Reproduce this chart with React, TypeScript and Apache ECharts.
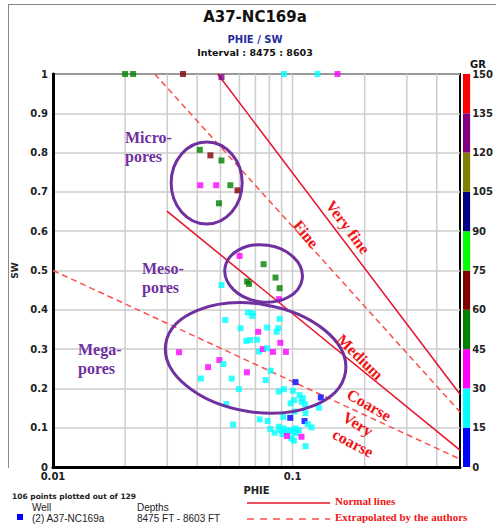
import React, { useEffect, useRef } from 'react';
import * as echarts from 'echarts';

// ---------------- data ----------------
// GR colour classes (0-150, step 15)
const grBreaks = [0, 15, 30, 45, 60, 75, 90, 105, 120, 135, 150];
const grColors = ['#0000ff', '#00ffff', '#ff00ff', '#008000', '#800000', '#00ff00', '#000080', '#808000', '#800080', '#ff0000'];

// points on the top border and in the micro-pore zone
const phieTop = [0.020, 0.0216, 0.0349, 0.0505, 0.092, 0.127, 0.154];
const swTop = [1, 1, 1, 0.992, 1, 1, 1];
const grTop = [52, 50, 66, 128, 24, 22, 40];

const phieMicro = [0.0410, 0.0454, 0.0505, 0.0412, 0.0480, 0.0550, 0.0589, 0.0493];
const swMicro = [0.807, 0.793, 0.780, 0.717, 0.717, 0.717, 0.704, 0.671];
const grMicro = [52, 68, 55, 38, 40, 50, 70, 48];

const phieMeso = [0.0601, 0.0757, 0.0505, 0.0646, 0.0658, 0.0849, 0.0883, 0.0877];
const swMeso = [0.537, 0.516, 0.463, 0.472, 0.466, 0.482, 0.455, 0.427];
const grMeso = [42, 50, 25, 53, 55, 47, 51, 36];

const phieMega = [0.0651, 0.0681, 0.0678, 0.0524, 0.0883, 0.0607, 0.0719, 0.0783, 0.0872, 0.0858,
  0.0641, 0.0665, 0.0711, 0.0889, 0.0336, 0.0724, 0.0752, 0.0783, 0.0828, 0.0938,
  0.0495, 0.0514, 0.0444, 0.0645, 0.0810, 0.0414, 0.0557, 0.0772, 0.0597, 0.0529, 0.0564];
const swMega = [0.393, 0.391, 0.384, 0.374, 0.377, 0.353, 0.344, 0.355, 0.353, 0.344,
  0.321, 0.323, 0.324, 0.316, 0.292, 0.294, 0.300, 0.302, 0.293, 0.293,
  0.272, 0.262, 0.254, 0.241, 0.245, 0.225, 0.225, 0.221, 0.198, 0.160, 0.108];
const grMega = [22, 24, 20, 26, 23, 21, 40, 25, 22, 19,
  27, 23, 20, 33, 38, 24, 36, 21, 41, 35,
  39, 22, 37, 42, 26, 18, 24, 21, 20, 27, 19];

const phieCluster = [0.1029, 0.0877, 0.0920, 0.1003, 0.1069, 0.1104, 0.1312, 0.1013, 0.0981, 0.1090,
  0.1125, 0.1019, 0.1287, 0.0915, 0.0978, 0.1133, 0.1122, 0.0729, 0.0787, 0.1158,
  0.1200, 0.0807, 0.0841, 0.0877, 0.0889, 0.0917, 0.0941, 0.0906, 0.0972, 0.1003,
  0.1029, 0.1062, 0.0988, 0.1013, 0.1036, 0.1133, 0.0947, 0.1090];
const swCluster = [0.216, 0.192, 0.198, 0.194, 0.183, 0.175, 0.177, 0.170, 0.162, 0.166,
  0.160, 0.141, 0.151, 0.127, 0.125, 0.137, 0.117, 0.121, 0.117, 0.109,
  0.101, 0.097, 0.087, 0.1025, 0.094, 0.098, 0.090, 0.084, 0.094, 0.090,
  0.098, 0.094, 0.073, 0.067, 0.086, 0.053, 0.079, 0.077];
const grCluster = [10, 22, 24, 20, 23, 25, 12, 21, 19, 26,
  22, 24, 20, 23, 9, 27, 11, 22, 25, 21,
  18, 24, 20, 26, 22, 23, 21, 19, 25, 24,
  20, 22, 23, 26, 21, 24, 38, 34];

const phie = [...phieTop, ...phieMicro, ...phieMeso, ...phieMega, ...phieCluster];
const sw = [...swTop, ...swMicro, ...swMeso, ...swMega, ...swCluster];
const gr = [...grTop, ...grMicro, ...grMeso, ...grMega, ...grCluster];

// rock-type boundary lines (PHIE, SW end points)
const veryFinePhie = [0.0487, 0.5];
const veryFineSw = [1.0, 0.185];
const finePhie = [0.0266, 0.5];
const fineSw = [1.0, 0.14];
const mediumPhie = [0.0299, 0.5];
const mediumSw = [0.651, 0.043];
const coarsePhie = [0.01, 0.5];
const coarseSw = [0.5, 0.02];

// vertical log grid lines
const gridPhie = [0.02, 0.03, 0.04, 0.05, 0.06, 0.07, 0.08, 0.09, 0.1, 0.2, 0.3, 0.4];
const swRange = [0, 1];

// pore-type ellipses (centre in data units)
const ellipsePhie = [0.0438, 0.0757, 0.0701];
const ellipseSw = [0.7226, 0.4924, 0.2774];

const RED = '#e8102a';
const DASHRED = '#ff4d4d';
const PURPLE = '#7030a0';
const LABELRED = '#f01414';
const GRIDGRAY = '#cdcdcd';

export default function App() {
  const ref = useRef<HTMLDivElement>(null);

  useEffect(() => {
    if (!ref.current) return;
    const chart = echarts.init(ref.current, null, { renderer: 'svg' });

    const axisFont = { fontFamily: 'DejaVu Sans', fontWeight: 'bold', fontSize: 10, color: '#222' };

    const lineSeries = (name: string, xs: number[], ys: number[], color: string, dashed: boolean) => ({
      type: 'line',
      name,
      xAxisIndex: 0,
      yAxisIndex: 0,
      data: xs.map((x, i) => [x, ys[i]]),
      showSymbol: false,
      symbol: 'none',
      silent: true,
      z: 3,
      lineStyle: { color, width: 1.5, type: dashed ? [6, 4] : 'solid' },
    });

    const option: any = {
      animation: false,
      backgroundColor: '#fff',
      grid: [
        { left: 53, top: 74, width: 407, height: 393, show: true, borderColor: '#000', borderWidth: 2 },
        { left: 463, top: 74, width: 9, height: 393 },
      ],
      xAxis: [
        {
          type: 'log', logBase: 10, min: 0.01, max: 0.5, gridIndex: 0,
          name: 'PHIE', nameLocation: 'middle', nameGap: 14,
          nameTextStyle: { ...axisFont, fontSize: 10 },
          axisLine: { show: true, onZero: false, lineStyle: { color: '#000', width: 3 } },
          axisTick: { show: false },
          axisLabel: {
            ...axisFont, margin: 4, showMaxLabel: false,
            formatter: (v: number) => (Math.abs(v - 0.01) < 1e-9 ? '0.01' : Math.abs(v - 0.1) < 1e-9 ? '0.1' : ''),
          },
          splitLine: { show: false },
        },
        { type: 'category', gridIndex: 1, data: ['GR'], show: false },
      ],
      yAxis: [
        {
          type: 'value', min: 0, max: 1, interval: 0.1, gridIndex: 0,
          name: 'SW', nameLocation: 'middle', nameGap: 32,
          nameTextStyle: { ...axisFont, fontSize: 9 },
          axisLine: { show: true, onZero: false, lineStyle: { color: '#000', width: 3 } },
          axisTick: { show: false },
          axisLabel: { ...axisFont, margin: 5 },
          splitLine: { show: true, lineStyle: { color: GRIDGRAY, width: 1.5 } },
        },
        {
          type: 'value', min: 0, max: 150, interval: 15, gridIndex: 1, position: 'right',
          axisLine: { show: false }, axisTick: { show: false }, splitLine: { show: false },
          axisLabel: { ...axisFont, margin: 2 },
        },
      ],
      visualMap: {
        type: 'piecewise', show: false, seriesIndex: 0, dimension: 2,
        pieces: grColors.map((c, i) => ({ gte: grBreaks[i], lt: grBreaks[i + 1], color: c })),
      },
      series: [
        {
          type: 'scatter', xAxisIndex: 0, yAxisIndex: 0, symbol: 'rect', symbolSize: 6, z: 4,
          data: phie.map((p, i) => [p, sw[i], gr[i]]),
        },
        lineSeries('Very fine', veryFinePhie, veryFineSw, RED, false),
        lineSeries('Fine', finePhie, fineSw, DASHRED, true),
        lineSeries('Medium', mediumPhie, mediumSw, RED, false),
        lineSeries('Coarse', coarsePhie, coarseSw, DASHRED, true),
        ...grColors.map((c, i) => ({
          type: 'bar', xAxisIndex: 1, yAxisIndex: 1, stack: 'gr', barWidth: '100%', silent: true,
          data: [grBreaks[i + 1] - grBreaks[i]], itemStyle: { color: c },
        })),
      ],
    };

    chart.setOption(option);

    const toPx = (p: number, s: number) => chart.convertToPixel({ seriesIndex: 0 }, [p, s]) as number[];
    const radX = [35.5, 39, 91];
    const radY = [41, 28.5, 54];
    const rot = [0, -0.14, -0.16];

    // vertical log grid lines placed through the x-axis scale
    const vLines = gridPhie.map((v) => {
      const top = toPx(v, swRange[1]);
      const bot = toPx(v, swRange[0]);
      return {
        type: 'line', z: 0, silent: true,
        shape: { x1: top[0], y1: top[1], x2: bot[0], y2: bot[1] },
        style: { stroke: GRIDGRAY, lineWidth: 1.5 },
      };
    });

    const ellipses = ellipsePhie.map((p, i) => {
      const [cx, cy] = toPx(p, ellipseSw[i]);
      return {
        type: 'ellipse', x: cx, y: cy, rotation: rot[i], z: 5, silent: true,
        shape: { cx: 0, cy: 0, rx: radX[i], ry: radY[i] },
        style: { fill: 'none', stroke: PURPLE, lineWidth: 3 },
      };
    });

    const txt = (text: string, x: number, y: number, font: string, fill: string, align = 'left', rotation = 0, extra: any = {}) => ({
      type: 'text', x, y, rotation, z: 6, silent: true,
      style: { text, font, fill, align, verticalAlign: 'middle', ...extra },
    });

    const zoneFont = 'bold 16px "Liberation Serif"';
    const rockFont = 'bold 16px "Liberation Serif"';

    const graphic: any[] = [
      ...vLines,
      { type: 'line', shape: { x1: 8, y1: 4.5, x2: 496, y2: 4.5 }, style: { stroke: '#8a8a8a', lineWidth: 1 }, silent: true },
      { type: 'line', shape: { x1: 8.5, y1: 4, x2: 8.5, y2: 468 }, style: { stroke: '#8a8a8a', lineWidth: 1 }, silent: true },
      txt('A37-NC169a', 255, 17, 'bold 15px "DejaVu Sans"', '#111', 'center'),
      txt('PHIE / SW', 255, 39, 'bold 10px "DejaVu Sans"', '#2a2a9c', 'center'),
      txt('Interval : 8475 : 8603', 255, 52, 'bold 9.5px "DejaVu Sans"', '#111', 'center'),
      txt('GR', 478, 64, 'bold 10px "DejaVu Sans"', '#111', 'center'),
      ...ellipses,
      { type: 'text', x: 125, y: 127.5, z: 6, silent: true, style: { text: 'Micro-\npores', font: zoneFont, fill: PURPLE, lineHeight: 19, align: 'left', verticalAlign: 'top' } },
      { type: 'text', x: 142, y: 258.5, z: 6, silent: true, style: { text: 'Meso-\npores', font: zoneFont, fill: PURPLE, lineHeight: 19, align: 'left', verticalAlign: 'top' } },
      { type: 'text', x: 78, y: 339.5, z: 6, silent: true, style: { text: 'Mega-\npores', font: zoneFont, fill: PURPLE, lineHeight: 19, align: 'left', verticalAlign: 'top' } },
      txt('Very fine', 348, 227, rockFont, LABELRED, 'center', -0.93),
      txt('Fine', 306, 234, rockFont, LABELRED, 'center', -0.88),
      txt('Medium', 360, 357, rockFont, LABELRED, 'center', -0.77),
      txt('Coarse', 369, 405, rockFont, LABELRED, 'center', -0.52),
      txt('Very', 358, 424, rockFont, LABELRED, 'center', -0.55),
      txt('coarse', 353, 443, rockFont, LABELRED, 'center', -0.48),
      // footer
      txt('106 points plotted out of 129', 12, 496, 'bold 7.5px "DejaVu Sans"', '#222', 'left'),
      txt('Well', 32, 507, '10px "Liberation Sans"', '#222', 'left'),
      txt('Depths', 137, 507, '10px "Liberation Sans"', '#222', 'left'),
      { type: 'rect', shape: { x: 17, y: 514, width: 6, height: 6 }, style: { fill: '#0000ff' }, silent: true },
      txt('(2) A37-NC169a', 32, 518, '10px "Liberation Sans"', '#222', 'left'),
      txt('8475 FT - 8603 FT', 137, 518, '10px "Liberation Sans"', '#222', 'left'),
      { type: 'line', shape: { x1: 247, y1: 503, x2: 330, y2: 503 }, style: { stroke: RED, lineWidth: 1.5 }, silent: true },
      { type: 'line', shape: { x1: 247, y1: 519, x2: 330, y2: 519 }, style: { stroke: DASHRED, lineWidth: 1.5, lineDash: [7, 6] }, silent: true },
      txt('Normal lines', 335, 501, 'bold 11px "Liberation Serif"', LABELRED, 'left'),
      txt('Extrapolated by the authors', 335, 517, 'bold 11px "Liberation Serif"', LABELRED, 'left'),
    ];

    chart.setOption({ graphic });

    return () => chart.dispose();
  }, []);

  return <div ref={ref} style={{ position: 'absolute', left: 0, top: 0, width: 496, height: 524, background: '#fff' }} />;
}
